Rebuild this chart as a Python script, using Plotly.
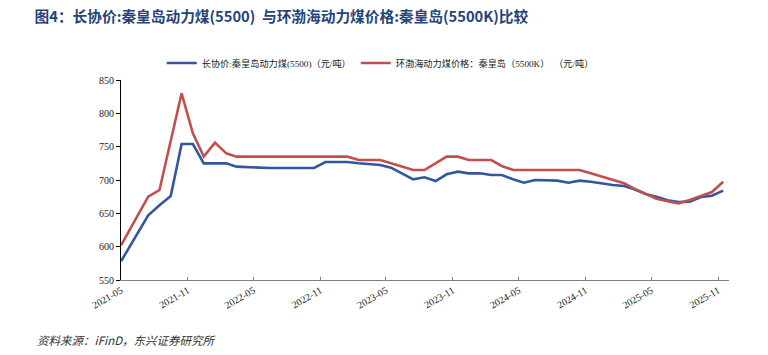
import plotly.graph_objects as go

# ---- data ----
first_date = "2021-05-01"
months = [
    "2021-06", "2021-07", "2021-08", "2021-09", "2021-10", "2021-11", "2021-12",
    "2022-01", "2022-02", "2022-03", "2022-04", "2022-05", "2022-06", "2022-07",
    "2022-08", "2022-09", "2022-10", "2022-11", "2022-12",
    "2023-01", "2023-02", "2023-03", "2023-04", "2023-05", "2023-06", "2023-07",
    "2023-08", "2023-09", "2023-10", "2023-11", "2023-12",
    "2024-01", "2024-02", "2024-03", "2024-04", "2024-05", "2024-06", "2024-07",
    "2024-08", "2024-09", "2024-10", "2024-11", "2024-12",
    "2025-01", "2025-02", "2025-03", "2025-04", "2025-05", "2025-06", "2025-07",
    "2025-08", "2025-09", "2025-10", "2025-11",
]
dates = [first_date] + [m + "-15" for m in months]

contract_price = [
    578, 620, 647, 662, 676, 754, 754, 725,
    725, 725, 720, 719, 718, 718, 718, 718, 718, 718, 727, 727,
    727, 725, 723.5, 722.5, 718.5, 709, 701, 704, 698.5, 708.5, 712.5, 710,
    710, 707.5, 707.5, 701, 696, 700, 700, 699, 696, 699, 697.5, 695,
    692.5, 691, 686, 679, 675, 669.5, 667, 667.5, 674.5, 676.5, 684,
]
bohai_price = [
    602, 645, 675, 685, 757, 830, 770, 735,
    756, 740, 735, 735, 735, 735, 735, 735, 735, 735, 735, 735,
    735, 730, 730, 730, 725, 720, 715, 715, 725, 735, 735, 730,
    730, 730, 721, 715, 715, 715, 715, 715, 715, 715, 710, 705,
    700, 695, 687, 679, 672, 668, 665, 670, 676, 682, 697.5,
]

name_contract = "长协价:秦皇岛动力煤(5500)（元/吨）"
name_bohai = "环渤海动力煤价格：秦皇岛（5500K）  （元/吨）"
title_text = "图4：长协价:秦皇岛动力煤(5500)  与环渤海动力煤价格:秦皇岛(5500K)比较"
source_text = "资料来源：iFinD，东兴证券研究所"

BLUE = "#3356A2"
RED = "#C0504D"
SERIF = "Liberation Serif, Noto Sans CJK SC, serif"

fig = go.Figure()
fig.add_trace(go.Scatter(x=dates, y=contract_price, mode="lines", name=name_contract,
                         line=dict(color=BLUE, width=2.6)))
fig.add_trace(go.Scatter(x=dates, y=bohai_price, mode="lines", name=name_bohai,
                         line=dict(color=RED, width=2.6)))

fig.update_layout(
    width=768, height=355,
    margin=dict(l=121, r=39, t=80, b=75),
    paper_bgcolor="white", plot_bgcolor="white",
    showlegend=True,
    title=dict(text="<b>" + title_text + "</b>", x=0.045, xanchor="left",
               y=0.952, yanchor="middle", xref="container", yref="container",
               font=dict(family="Noto Sans CJK SC, sans-serif", size=14.7, color="#264478")),
    legend=dict(orientation="h", x=0.067, xanchor="left", y=1.085, yanchor="middle",
                font=dict(family=SERIF, size=9.2, color="#222222"),
                bgcolor="rgba(0,0,0,0)", itemwidth=30, tracegroupgap=0),
    annotations=[dict(text="<i>" + source_text + "</i>", xref="paper", yref="paper",
                      x=-0.141, y=-0.30, xanchor="left", yanchor="middle", showarrow=False,
                      font=dict(family="Noto Sans CJK SC, sans-serif", size=11.5, color="#333333"))],
)

fig.update_xaxes(
    type="date", range=["2021-05-01", "2025-12-01"],
    tick0="2021-05-01", dtick="M6", tickformat="%Y-%m", tickangle=-30,
    ticks="inside", ticklen=3, tickcolor="#808080",
    showline=True, linecolor="#808080", linewidth=1,
    showgrid=False, zeroline=False,
    tickfont=dict(family=SERIF, size=10, color="#222222"),
)
fig.update_yaxes(
    range=[550, 850], dtick=50,
    ticks="outside", ticklen=4, tickcolor="#000000",
    showline=True, linecolor="#000000", linewidth=1,
    showgrid=False, zeroline=False,
    tickfont=dict(family=SERIF, size=10, color="#222222"),
)

fig.write_html("out.html", config={"displayModeBar": False},
               post_script="document.body.style.margin='0';")
